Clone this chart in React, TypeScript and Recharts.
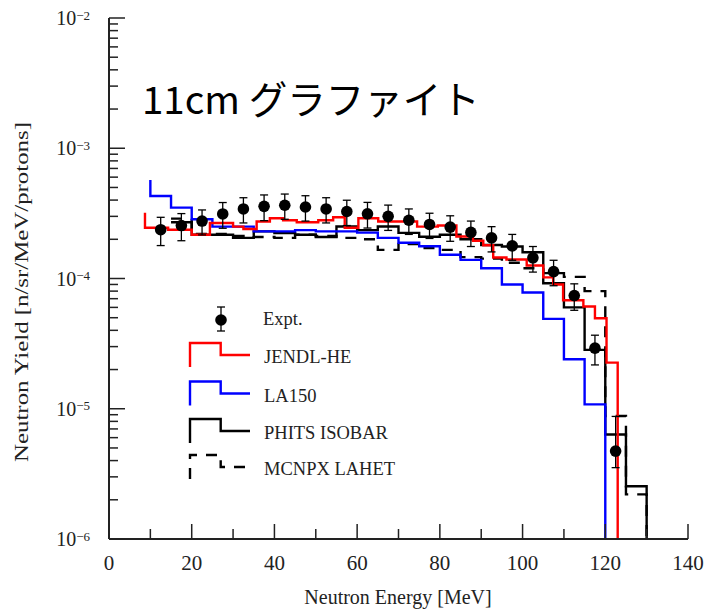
import React from 'react';
import { ComposedChart, Line, Scatter, XAxis, YAxis, ErrorBar } from 'recharts';

// ---- data ----
const FLOOR = 1e-8;

// LA150 (blue) histogram: bin left edges and values
const la150Edges = [10, 10, 15, 20, 25, 30, 35, 40, 45, 50, 55, 60, 65, 70, 75, 80, 85, 90, 95, 100, 105, 110, 115, 120];
const la150Vals = [5.7e-4, 4.3e-4, 3.5e-4, 2.85e-4, 2.5e-4, 2.5e-4, 2.3e-4, 2.3e-4, 2.35e-4, 2.3e-4, 2.3e-4, 2.25e-4, 2.05e-4, 1.88e-4, 1.77e-4, 1.52e-4, 1.39e-4, 1.2e-4, 9.0e-5, 7.8e-5, 4.9e-5, 2.4e-5, 1.08e-5, FLOOR];

// JENDL-HE (red)
const jendlEdges = [8.7, 8.7, 14.3, 20, 24.4, 30, 32.5, 35.7, 38.9, 42.1, 45.4, 50.6, 54.2, 57, 60.3, 65.1, 74.5, 79.5, 84, 88, 90.5, 92.9, 96.1, 101, 105, 107.4, 109.8, 114.7, 117.5, 120.3, 123];
const jendlVals = [3.2e-4, 2.45e-4, 2.37e-4, 2.17e-4, 2.67e-4, 2.5e-4, 2.4e-4, 2.74e-4, 2.9e-4, 2.8e-4, 2.7e-4, 2.8e-4, 2.95e-4, 2.45e-4, 2.9e-4, 2.74e-4, 2.5e-4, 2.55e-4, 2.1e-4, 1.95e-4, 1.8e-4, 1.45e-4, 1.4e-4, 1.26e-4, 1.02e-4, 9.0e-5, 6.8e-5, 6.1e-5, 4.95e-5, 2.26e-5, FLOOR];

// PHITS ISOBAR (black solid)
const phitsEdges = [15, 20, 25, 30, 35, 40, 45, 50, 55, 60, 65, 70, 75, 80, 85, 90, 95, 100, 105, 110, 115, 120, 125, 130];
const phitsVals = [2.7e-4, 2.17e-4, 2.17e-4, 2.05e-4, 2.3e-4, 2.23e-4, 2.17e-4, 2.08e-4, 2.51e-4, 2.35e-4, 2.51e-4, 2.24e-4, 2.09e-4, 2.17e-4, 2.0e-4, 1.81e-4, 1.76e-4, 1.59e-4, 9.2e-5, 6.0e-5, 2.83e-5, 6.35e-6, 2.54e-6, FLOOR];

// MCNPX LAHET (black dashed)
const mcnpxEdges = [15, 20, 25, 30, 35, 40, 45, 50, 55, 60, 65, 70, 75, 80, 85, 90, 95, 100, 105, 110, 115, 120, 125, 130];
const mcnpxVals = [2.88e-4, 2.2e-4, 2.2e-4, 2.12e-4, 2.08e-4, 2.05e-4, 2.17e-4, 2.12e-4, 2.05e-4, 2.0e-4, 1.66e-4, 1.84e-4, 1.71e-4, 1.66e-4, 1.46e-4, 1.42e-4, 1.32e-4, 1.2e-4, 1.1e-4, 1.03e-4, 8.0e-5, 8.8e-6, 2.2e-6, FLOOR];

// Experiment
const exptE = [12.5, 17.5, 22.5, 27.5, 32.5, 37.5, 42.5, 47.5, 52.5, 57.5, 62.5, 67.5, 72.5, 77.5, 82.5, 87.5, 92.5, 97.5, 102.5, 107.5, 112.5, 117.5, 122.5];
const exptVals = [2.37e-4, 2.55e-4, 2.76e-4, 3.13e-4, 3.42e-4, 3.58e-4, 3.65e-4, 3.54e-4, 3.42e-4, 3.27e-4, 3.14e-4, 3.0e-4, 2.8e-4, 2.6e-4, 2.48e-4, 2.26e-4, 2.05e-4, 1.78e-4, 1.44e-4, 1.13e-4, 7.4e-5, 2.92e-5, 4.73e-6];
const exptErrLow = [5.8e-5, 6.0e-5, 6.0e-5, 7.0e-5, 7.5e-5, 8.0e-5, 8.0e-5, 7.8e-5, 7.5e-5, 7.2e-5, 7.0e-5, 6.6e-5, 6.2e-5, 5.7e-5, 5.5e-5, 5.0e-5, 4.5e-5, 4.0e-5, 3.2e-5, 2.5e-5, 1.7e-5, 7.5e-6, 1.2e-6];
const exptErrHigh = [5.8e-5, 6.0e-5, 6.0e-5, 7.0e-5, 7.5e-5, 8.0e-5, 8.0e-5, 7.8e-5, 7.5e-5, 7.2e-5, 7.0e-5, 6.6e-5, 6.2e-5, 5.7e-5, 5.5e-5, 5.0e-5, 4.5e-5, 4.0e-5, 3.2e-5, 2.5e-5, 1.7e-5, 7.5e-6, 4.0e-6];

const xMajorTicks = [0, 20, 40, 60, 80, 100, 120, 140];
const xMinorTicks = [10, 30, 50, 70, 90, 110, 130];
const yDecades = [-6, -5, -4, -3, -2];
const yMinorMult = [2, 3, 4, 5, 6, 7, 8, 9];

const seriesNames = ['Expt.', 'JENDL-HE', 'LA150', 'PHITS ISOBAR', 'MCNPX LAHET'];
const titleText = '11cm グラファイト';
const xTitle = 'Neutron Energy [MeV]';
const yTitle = 'Neutron Yield [n/sr/MeV/protons]';

// ---- build tables ----
const toRows = (edges: number[], vals: number[]) => edges.map((e, i) => ({ e, v: vals[i] }));
const la150Data = toRows(la150Edges, la150Vals);
const jendlData = toRows(jendlEdges, jendlVals);
const phitsData = toRows(phitsEdges, phitsVals);
const mcnpxData = toRows(mcnpxEdges, mcnpxVals);
const exptData = exptE.map((e, i) => ({ e, v: exptVals[i], err: [exptErrLow[i], exptErrHigh[i]] }));

const xTicks = [...xMajorTicks, ...xMinorTicks].sort((a, b) => a - b);
const yTicks: number[] = [];
yDecades.forEach((d) => {
  yTicks.push(Math.pow(10, d));
  if (d < -2) yMinorMult.forEach((m) => yTicks.push(m * Math.pow(10, d)));
});

const SERIF = "'Liberation Serif', 'Times New Roman', 'DejaVu Serif', serif";
const AX = '#222';
const isMajorY = (v: number) => Math.abs(Math.log10(v) - Math.round(Math.log10(v))) < 1e-6;

const BottomTick = (props: any) => {
  const { x, y, payload } = props;
  const major = xMajorTicks.includes(payload.value);
  return (
    <g>
      <line x1={x} y1={y} x2={x} y2={y - (major ? 15 : 10)} stroke={AX} strokeWidth={1.5} />
      {major && (
        <text x={x} y={y + 31} textAnchor="middle" fontFamily={SERIF} fontSize={21} fill="#222">
          {payload.value}
        </text>
      )}
    </g>
  );
};

const TopTick = (props: any) => {
  const { x, y, payload } = props;
  const major = xMajorTicks.includes(payload.value);
  return <line x1={x} y1={y} x2={x} y2={y + (major ? 15 : 10)} stroke={AX} strokeWidth={1.5} />;
};

const LeftTick = (props: any) => {
  const { x, y, payload } = props;
  const major = isMajorY(payload.value);
  const exp = Math.round(Math.log10(payload.value));
  return (
    <g>
      <line x1={x} y1={y} x2={x + (major ? 16 : 9)} y2={y} stroke={AX} strokeWidth={1.5} />
      {major && (
        <text x={x - 19} y={y + 7} textAnchor="end" fontFamily={SERIF} fill="#222">
          <tspan fontSize={20}>10</tspan>
          <tspan fontSize={13} dy={-5.5}>{'\u2212' + Math.abs(exp)}</tspan>
        </text>
      )}
    </g>
  );
};

const RightTick = (props: any) => {
  const { x, y, payload } = props;
  const major = isMajorY(payload.value);
  return <line x1={x} y1={y} x2={x - (major ? 16 : 10)} y2={y} stroke={AX} strokeWidth={1.5} />;
};

const Dot = (props: any) => <circle cx={props.cx} cy={props.cy} r={5.8} fill="#000" />;

const legendRows = [
  { name: seriesNames[1], color: '#ff0000', dash: undefined as string | undefined, y: 343 },
  { name: seriesNames[2], color: '#0000ff', dash: undefined, y: 381.5 },
  { name: seriesNames[3], color: '#000000', dash: undefined, y: 419 },
  { name: seriesNames[4], color: '#000000', dash: '11 9', y: 455 },
];

export default function App() {
  return (
    <div style={{ position: 'absolute', left: 0, top: 0, width: 708, height: 609, background: '#fff' }}>
      <ComposedChart width={708} height={609} margin={{ top: 18, right: 20, bottom: 0, left: 49 }}>
        <XAxis
          xAxisId={0}
          dataKey="e"
          type="number"
          domain={[0, 140]}
          allowDataOverflow
          ticks={xTicks}
          interval={0}
          tickSize={0}
          tickMargin={0}
          tickLine={false}
          tick={<BottomTick />}
          height={70}
          axisLine={{ stroke: AX, strokeWidth: 2 }}
        />
        <XAxis
          xAxisId="t"
          orientation="top"
          dataKey="e"
          type="number"
          domain={[0, 140]}
          allowDataOverflow
          ticks={xTicks}
          interval={0}
          tickSize={0}
          tickMargin={0}
          tickLine={false}
          tick={<TopTick />}
          height={0}
          axisLine={{ stroke: AX, strokeWidth: 2 }}
        />
        <YAxis
          yAxisId={0}
          dataKey="v"
          scale="log"
          domain={[1e-6, 1e-2]}
          allowDataOverflow
          ticks={yTicks}
          interval={0}
          tickSize={0}
          tickMargin={0}
          tickLine={false}
          tick={<LeftTick />}
          width={60}
          axisLine={{ stroke: AX, strokeWidth: 2 }}
        />
        <YAxis
          yAxisId="r"
          orientation="right"
          dataKey="v"
          scale="log"
          domain={[1e-6, 1e-2]}
          allowDataOverflow
          ticks={yTicks}
          interval={0}
          tickSize={0}
          tickMargin={0}
          tickLine={false}
          tick={<RightTick />}
          width={0}
          axisLine={{ stroke: AX, strokeWidth: 2 }}
        />
        <Line data={mcnpxData} dataKey="v" type="stepAfter" stroke="#000" strokeWidth={2.4} strokeDasharray="11 9" dot={false} isAnimationActive={false} name={seriesNames[4]} />
        <Line data={phitsData} dataKey="v" type="stepAfter" stroke="#000" strokeWidth={2.4} dot={false} isAnimationActive={false} name={seriesNames[3]} />
        <Line data={la150Data} dataKey="v" type="stepAfter" stroke="#0000ff" strokeWidth={2.4} dot={false} isAnimationActive={false} name={seriesNames[2]} />
        <Line data={jendlData} dataKey="v" type="stepAfter" stroke="#ff0000" strokeWidth={2.4} dot={false} isAnimationActive={false} name={seriesNames[1]} />
        <Scatter data={exptData} dataKey="v" shape={<Dot />} isAnimationActive={false} name={seriesNames[0]}>
          <ErrorBar dataKey="err" direction="y" width={4} stroke="#000" strokeWidth={1.3} isAnimationActive={false} />
        </Scatter>
      </ComposedChart>
      <svg width={708} height={609} style={{ position: 'absolute', left: 0, top: 0, pointerEvents: 'none' }}>
        <text x={142} y={114} fontFamily="'Noto Sans CJK JP', 'Noto Sans', sans-serif" fontSize={38.5} fill="#000">
          {titleText}
        </text>
        <text x={398} y={604} textAnchor="middle" fontFamily={SERIF} fontSize={20} fill="#222">
          {xTitle}
        </text>
        <text
          x={0}
          y={0}
          transform="translate(28, 292) rotate(-90) scale(1.38, 1)"
          textAnchor="middle"
          fontFamily={SERIF}
          fontSize={18}
          fill="#222"
        >
          {yTitle}
        </text>
        {/* legend */}
        <line x1={221} y1={307} x2={221} y2={331} stroke="#000" strokeWidth={1.3} />
        <line x1={217} y1={307} x2={225} y2={307} stroke="#000" strokeWidth={1.3} />
        <line x1={217} y1={331} x2={225} y2={331} stroke="#000" strokeWidth={1.3} />
        <circle cx={221} cy={320} r={5.8} fill="#000" />
        <text x={263} y={325} fontFamily={SERIF} fontSize={18.5} fill="#222">{seriesNames[0]}</text>
        {legendRows.map((r) => (
          <g key={r.name}>
            <path
              d={`M190,${r.y + 24} V${r.y} H220.7 V${r.y + 12} H250`}
              fill="none"
              stroke={r.color}
              strokeWidth={2.4}
              strokeDasharray={r.dash}
            />
            <text x={264} y={r.y + 20} fontFamily={SERIF} fontSize={18.5} fill="#222">{r.name}</text>
          </g>
        ))}
      </svg>
    </div>
  );
}
